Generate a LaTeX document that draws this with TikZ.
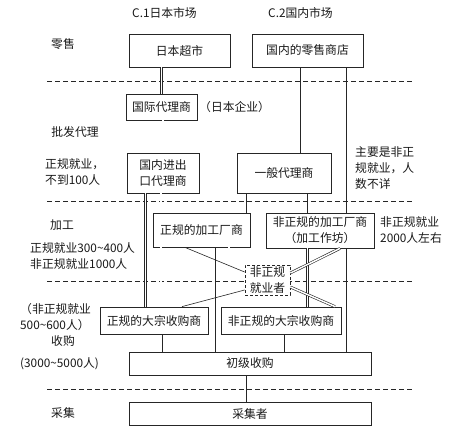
\documentclass[tikz,border=0pt]{standalone}
\usepackage{fontspec}
\setmainfont{Noto Sans CJK SC}
\begin{document}
\begin{tikzpicture}[x=1pt,y=-1pt,
  font=\fontsize{11.8}{16}\selectfont,
  box/.style={draw=black!85, line width=0.8pt, fill=white, inner sep=0pt, align=center, text=black!90},
  dbox/.style={box, dashed, dash pattern=on 3pt off 2pt},
  lbl/.style={inner sep=0pt, align=left, text=black!90},
  ln/.style={draw=black!85, line width=0.6pt},
  dbl/.style={draw=black!85, double=white, double distance=1.5pt, line width=0.6pt},
  sep/.style={draw=black!85, line width=0.6pt, dash pattern=on 5pt off 3pt}]
\useasboundingbox (0,0) rectangle (460,432);
\fill[white] (0,0) rectangle (460,432);

% separators
\foreach \yy in {81.5,201.5,281.5,389}
  \draw[sep] (47,\yy) -- (412,\yy);

% headers and labels
\node[lbl] (hdr1) at (164.5,13) {C.1日本市场};
\node[lbl] (hdr2) at (300.5,13) {C.2国内市场};
\node[lbl] (l1) at (63,44) {零售};
\node[lbl] (l2) at (75,132) {批发代理};
\node[lbl,anchor=west] (l3) at (45,172) {正规就业，\\不到100人};
\node[lbl] (l4) at (62,225) {加工};
\node[lbl,anchor=west] (l5) at (30,256) {正规就业300\textasciitilde400人\\非正规就业1000人};
\node[lbl,anchor=west] (l6) at (20,317) {（非正规就业\\500\textasciitilde600人）};
\node[lbl] (l7) at (63,341) {收购};
\node[lbl,anchor=west] (l8) at (20,364) {(3000\textasciitilde5000人)};
\node[lbl] (l9) at (63,413) {采集};
\node[lbl,anchor=west] (r1) at (355,168) {主要是非正\\规就业，人\\数不详};
\node[lbl,anchor=west] (r2) at (380,230) {非正规就业\\2000人左右};
\node[lbl,anchor=west] (r3) at (199,107) {（日本企业）};

% boxes
\node[box, minimum width=101, minimum height=33] (jpsuper) at (179.5,50.5) {日本超市};
\node[box, minimum width=111, minimum height=33] (dsretail) at (307.5,50.5) {国内的零售商店};
\node[box, minimum width=71, minimum height=26] (intl) at (161.5,107) {国际代理商};
\node[box, minimum width=72, minimum height=40] (ioagent) at (163,173) {国内进出\\口代理商};
\node[box, minimum width=94, minimum height=40] (general) at (284,173) {一般代理商};
\node[box, minimum width=97, minimum height=34] (fproc) at (201.5,230) {正规的加工厂商};
\node[box, minimum width=108, minimum height=35] (iproc) at (320,230.5) {非正规的加工厂商\\（加工作坊）};
\node[dbox, minimum width=45, minimum height=30] (iworker) at (267.5,280) {非正规\\就业者};
\node[box, minimum width=108, minimum height=27] (fbulk) at (154,320.5) {正规的大宗收购商};
\node[box, minimum width=120, minimum height=27] (ibulk) at (281,320.5) {非正规的大宗收购商};
\node[box, minimum width=242, minimum height=23] (primary) at (250,363.5) {初级收购};
\node[box, minimum width=242, minimum height=23] (collect) at (250,413.5) {采集者};

% connectors
\draw[dbl] (jpsuper.south -| 161.5,0) -- (intl.north -| 161.5,0);
\draw[dbl] (intl.south -| 163,0) -- (ioagent.north -| 163,0);
\draw[ln] (dsretail.south -| 300,0) -- (general.north -| 300,0);
\draw[ln] (dsretail.south -| 346,0) -- (iproc.north -| 346,0);
\draw[dbl] (ioagent.south -| 145.5,0) -- (fbulk.north -| 145.5,0);
\draw[dbl] (ioagent.south -| 161,0) -- (fproc.north -| 161,0);
\draw[ln] (general.south -| 246,0) -- (fproc.north -| 246,0);
\draw[ln] (general.south -| 307,0) -- (iproc.north -| 307,0);
\draw[dbl] (fproc.south -| 161,0) -- (fbulk.north -| 161,0);
\draw[ln] (fproc.south -| 215,0) -- (primary.north -| 215,0);
\draw[dbl] (fproc.south -| 229,0) -- (ibulk.north -| 229,0);
\draw[dbl] (iproc.south -| 307.5,0) -- (ibulk.north -| 307.5,0);
\draw[ln] (iproc.south -| 346,0) -- (primary.north -| 346,0);
\draw[ln] (fproc.south -| 185,0) -- (iworker.west |- 0,272);
\draw[ln] (iworker.west |- 0,290) -- (fbulk.north -| 182,0);
\draw[dbl] (iworker.east |- 0,273) -- (iproc.south -| 340,0);
\draw[dbl] (iworker.east |- 0,287) -- (ibulk.north -| 335,0);
\draw[ln] (fbulk.south -| 162,0) -- (primary.north -| 162,0);
\draw[ln] (ibulk.south -| 284,0) -- (primary.north -| 284,0);
\draw[ln] (primary.south -| 246,0) -- (collect.north -| 246,0);
\end{tikzpicture}
\end{document}
